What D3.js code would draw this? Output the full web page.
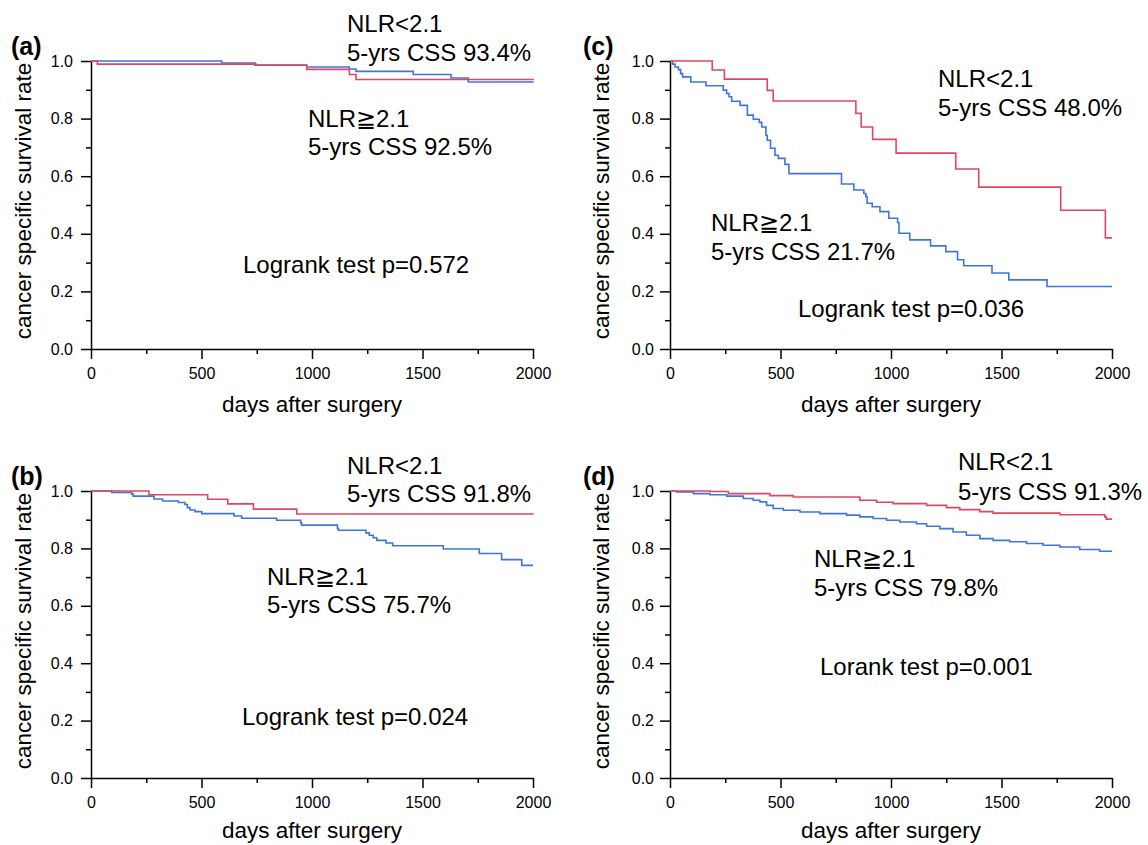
<!DOCTYPE html>
<html><head><meta charset="utf-8">
<script src="https://cdn.jsdelivr.net/npm/d3@7"></script>
<style>
body{margin:0;background:#fff}
svg{display:block}
text{font-family:"Liberation Sans",Arial,Helvetica,sans-serif;fill:#000}
</style>
</head><body><svg id="chart" width="1148" height="845"></svg>
<script>
// ---------- data ----------
const xTicks = [0, 500, 1000, 1500, 2000];
const xMinorTicks = [250, 750, 1250, 1750];
const yTicks = [0, 0.2, 0.4, 0.6, 0.8, 1.0];
const yMinorTicks = [0.1, 0.3, 0.5, 0.7, 0.9];
const panelLabels = ["(a)", "(b)", "(c)", "(d)"];
const xTitle = "days after surgery";
const yTitle = "cancer specific survival rate";
const groupLow = "NLR<2.1";
const groupHigh = "NLR\u22672.1";
const cssLow = ["5-yrs CSS 93.4%", "5-yrs CSS 91.8%", "5-yrs CSS 48.0%", "5-yrs CSS 91.3%"];
const cssHigh = ["5-yrs CSS 92.5%", "5-yrs CSS 75.7%", "5-yrs CSS 21.7%", "5-yrs CSS 79.8%"];
const testText = ["Logrank test p=0.572", "Logrank test p=0.024", "Logrank test p=0.036", "Lorank test p=0.001"];

// Kaplan-Meier steps [days, survival]
const aLow = [[0,1],[29,0.989],[747,0.986],[976,0.971],[1169,0.953],[1199,0.936],[2000,0.934]];
const aHigh = [[0,1],[591,0.993],[742,0.985],[976,0.979],[1169,0.972],[1199,0.964],[1458,0.953],[1629,0.941],[1707,0.927],[2000,0.925]];

const bLow = [[0,1],[262,0.987],[528,0.971],[619,0.955],[735,0.937],[931,0.92],[2000,0.918]];
const bHigh = [[0,1],[94,0.995],[184,0.989],[191,0.982],[285,0.972],[324,0.965],[395,0.96],[425,0.953],[436,0.942],
  [448,0.934],[471,0.928],[501,0.921],[647,0.913],[682,0.905],[840,0.898],[949,0.889],[953,0.881],[1115,0.87],
  [1119,0.863],[1244,0.854],[1259,0.846],[1277,0.837],[1293,0.828],[1335,0.819],[1365,0.809],[1594,0.798],
  [1757,0.782],[1858,0.761],[1949,0.741],[2000,0.741]];

const cLow = [[0,1],[191,0.969],[246,0.937],[440,0.898],[467,0.861],[841,0.818],[865,0.771],[917,0.728],
  [1023,0.68],[1293,0.625],[1397,0.562],[1768,0.482],[1970,0.386],[2000,0.386]];
const cHigh = [[0,1],[12,0.989],[23,0.979],[38,0.970],[48,0.956],[57,0.945],[94,0.927],[163,0.914],[241,0.899],
  [256,0.887],[267,0.876],[279,0.860],[317,0.846],[350,0.812],[377,0.798],[404,0.787],[415,0.771],[434,0.742],
  [440,0.725],[455,0.697],[475,0.673],[490,0.662],[520,0.641],[538,0.609],[776,0.573],[832,0.552],[877,0.540],
  [886,0.529],[892,0.506],[915,0.494],[950,0.477],[990,0.454],[1030,0.439],[1036,0.402],[1085,0.379],
  [1179,0.358],[1248,0.338],[1301,0.310],[1329,0.289],[1457,0.264],[1533,0.240],[1706,0.217],[2000,0.217]];

const dLow = [[0,1],[181,0.998],[264,0.991],[452,0.984],[558,0.979],[859,0.968],[935,0.961],[1010,0.956],
  [1161,0.950],[1251,0.942],[1311,0.935],[1402,0.928],[1462,0.923],[1764,0.917],[1967,0.910],[1974,0.902],[2000,0.902]];
const dHigh = [[0,1],[30,0.997],[106,0.991],[181,0.987],[256,0.982],[332,0.974],[377,0.968],[407,0.962],
  [437,0.950],[467,0.939],[513,0.933],[588,0.927],[678,0.921],[799,0.916],[859,0.910],[919,0.904],[980,0.898],
  [1040,0.892],[1115,0.886],[1161,0.877],[1221,0.869],[1281,0.857],[1341,0.846],[1402,0.834],[1462,0.828],
  [1537,0.823],[1613,0.817],[1688,0.811],[1764,0.805],[1854,0.796],[1944,0.790],[2000,0.790]];

const lowSeries = [aLow, bLow, cLow, dLow];
const highSeries = [aHigh, bHigh, cHigh, dHigh];

// ---------- layout ----------
const colorLow = "#e0475f";
const colorHigh = "#3f74df";
const panels = [
  {left: 91, top: 61, w: 442, h: 288, labelX: 11, labelY: 55, yTitleX: 31, xTitleDy: 63, yPad: 8,
   low: [256, -29], low2: [256, -0.5], high: [217, 66], high2: [217, 94], test: [152, 212]},
  {left: 91, top: 491, w: 442, h: 287, labelX: 11, labelY: 485, yTitleX: 31, xTitleDy: 60, yPad: 8,
   low: [256, -17], low2: [256, 11], high: [176, 94], high2: [176, 122], test: [151, 234]},
  {left: 670, top: 61, w: 442, h: 288, labelX: 583, labelY: 55, yTitleX: 609, xTitleDy: 63, yPad: 6,
   low: [268, 26], low2: [268, 55], high: [41, 170], high2: [41, 198.5], test: [128, 256]},
  {left: 670, top: 491, w: 442, h: 287, labelX: 583, labelY: 485, yTitleX: 609, xTitleDy: 60, yPad: 6,
   low: [288, -21], low2: [288, 9], high: [144, 76], high2: [144, 105], test: [150, 184]}
];

const svg = d3.select("#chart");
const annSize = 24, tickSize = 16, xTitleSize = 22.5, yTitleSize = 22.5;

panels.forEach((p, i) => {
  const x = d3.scaleLinear().domain([0, 2000]).range([0, p.w]);
  const y = d3.scaleLinear().domain([0, 1]).range([p.h, 0]);
  const g = svg.append("g").attr("transform", `translate(${p.left},${p.top})`);

  // minor ticks
  g.append("g").attr("transform", `translate(0,${p.h})`)
    .call(d3.axisBottom(x).tickValues(xMinorTicks).tickSize(5).tickSizeOuter(0).tickFormat(""))
    .call(s => s.select(".domain").remove());
  g.append("g")
    .call(d3.axisLeft(y).tickValues(yMinorTicks).tickSize(5).tickSizeOuter(0).tickFormat(""))
    .call(s => s.select(".domain").remove());

  // major axes
  const xa = g.append("g").attr("transform", `translate(0,${p.h})`)
    .call(d3.axisBottom(x).tickValues(xTicks).tickSize(10).tickSizeOuter(0).tickPadding(9).tickFormat(d3.format("d")));
  const ya = g.append("g")
    .call(d3.axisLeft(y).tickValues(yTicks).tickSize(10).tickSizeOuter(0).tickPadding(p.yPad).tickFormat(d3.format(".1f")));
  [xa, ya].forEach(a => {
    a.selectAll("text").style("font-size", tickSize + "px").style("font-family", '"Liberation Sans",Arial,sans-serif').attr("fill", "#000");
    a.selectAll("line,path").attr("stroke", "#000").attr("stroke-width", 1.5);
  });
  g.selectAll("line").attr("stroke", "#000").attr("stroke-width", 1.5);

  // curves
  const line = d3.line().x(d => x(d[0])).y(d => y(d[1])).curve(d3.curveStepAfter);
  g.append("path").datum(highSeries[i]).attr("d", line)
    .attr("fill", "none").attr("stroke", colorHigh).attr("stroke-width", 1.6);
  g.append("path").datum(lowSeries[i]).attr("d", line)
    .attr("fill", "none").attr("stroke", colorLow).attr("stroke-width", 1.6);

  // annotations
  const ann = (pos, txt) => g.append("text").attr("x", pos[0]).attr("y", pos[1])
    .style("font-size", annSize + "px").text(txt);
  ann(p.low, groupLow);
  ann(p.low2, cssLow[i]);
  ann(p.high, groupHigh);
  ann(p.high2, cssHigh[i]);
  ann(p.test, testText[i]);

  // axis titles
  g.append("text").attr("x", p.w / 2).attr("y", p.h + p.xTitleDy)
    .attr("text-anchor", "middle").style("font-size", xTitleSize + "px").text(xTitle);
  svg.append("text").attr("transform", `translate(${p.yTitleX},${p.top + 140}) rotate(-90)`)
    .attr("text-anchor", "middle").style("font-size", yTitleSize + "px").text(yTitle);

  // panel label
  svg.append("text").attr("x", p.labelX).attr("y", p.labelY)
    .style("font-size", "25px").style("font-weight", "bold").text(panelLabels[i]);
});
</script>
</body></html>
